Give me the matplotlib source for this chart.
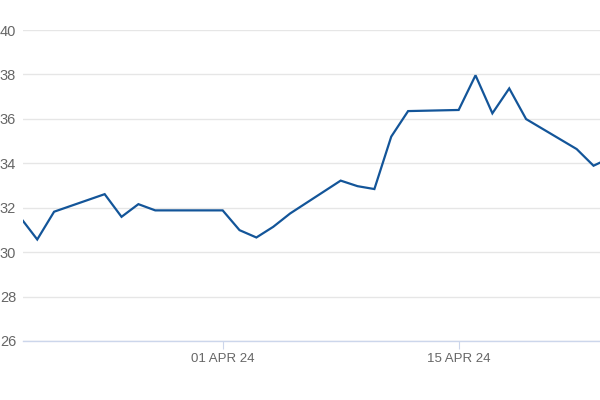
import numpy as np
import pandas as pd
import matplotlib
matplotlib.use('Agg')
import matplotlib.pyplot as plt
import matplotlib.dates as mdates

# trading days (weekends skipped, line joins across them)
dates = [
    '2024-03-20', '2024-03-21', '2024-03-22', '2024-03-25', '2024-03-26',
    '2024-03-27', '2024-03-28', '2024-04-01', '2024-04-02', '2024-04-03',
    '2024-04-04', '2024-04-05', '2024-04-08', '2024-04-09', '2024-04-10',
    '2024-04-11', '2024-04-12', '2024-04-15', '2024-04-16', '2024-04-17',
    '2024-04-18', '2024-04-19', '2024-04-22', '2024-04-23', '2024-04-24',
]
values = [
    31.56, 30.57, 31.82, 32.61, 31.59,
    32.16, 31.88, 31.88, 30.99, 30.66,
    31.14, 31.74, 33.22, 32.97, 32.84,
    35.20, 36.35, 36.40, 37.96, 36.25,
    37.37, 35.99, 34.64, 33.89, 34.25,
]
xtick_dates = ['2024-04-01', '2024-04-15']
xtick_labels = ['01 APR 24', '15 APR 24']
yticks = [26, 28, 30, 32, 34, 36, 38, 40]

x = pd.to_datetime(dates)

plt.rcParams['font.family'] = ['Liberation Sans', 'DejaVu Sans']

fig = plt.figure(figsize=(6, 4), dpi=100)
ax = fig.add_axes([0.0383, 0.1475, 0.9617, 0.7775])

ax.plot(x, values, color='#135599', lw=1.6, solid_joinstyle='miter', zorder=3)

start = pd.Timestamp('2024-03-20') + pd.Timedelta(hours=3.7)
ax.set_xlim(start, start + pd.Timedelta(days=34.23))
ax.set_ylim(26, 40)

ax.set_yticks(yticks)
ax.set_yticklabels([str(v) for v in yticks])
ax.set_xticks(pd.to_datetime(xtick_dates))
ax.set_xticklabels(xtick_labels)

ax.grid(axis='y', color='#e6e6e6', lw=1)
ax.set_axisbelow(True)
for s in ['top', 'right', 'left']:
    ax.spines[s].set_visible(False)
ax.spines['bottom'].set_color('#ccd6eb')
ax.spines['bottom'].set_linewidth(1)

ax.tick_params(axis='y', length=0, pad=5, labelsize=10.5, labelcolor='#666666')
ax.tick_params(axis='x', length=6, width=0.8, color='#ccd6eb', pad=3,
               labelsize=9.5, labelcolor='#666666')

fig.savefig('out.png', dpi=100)
